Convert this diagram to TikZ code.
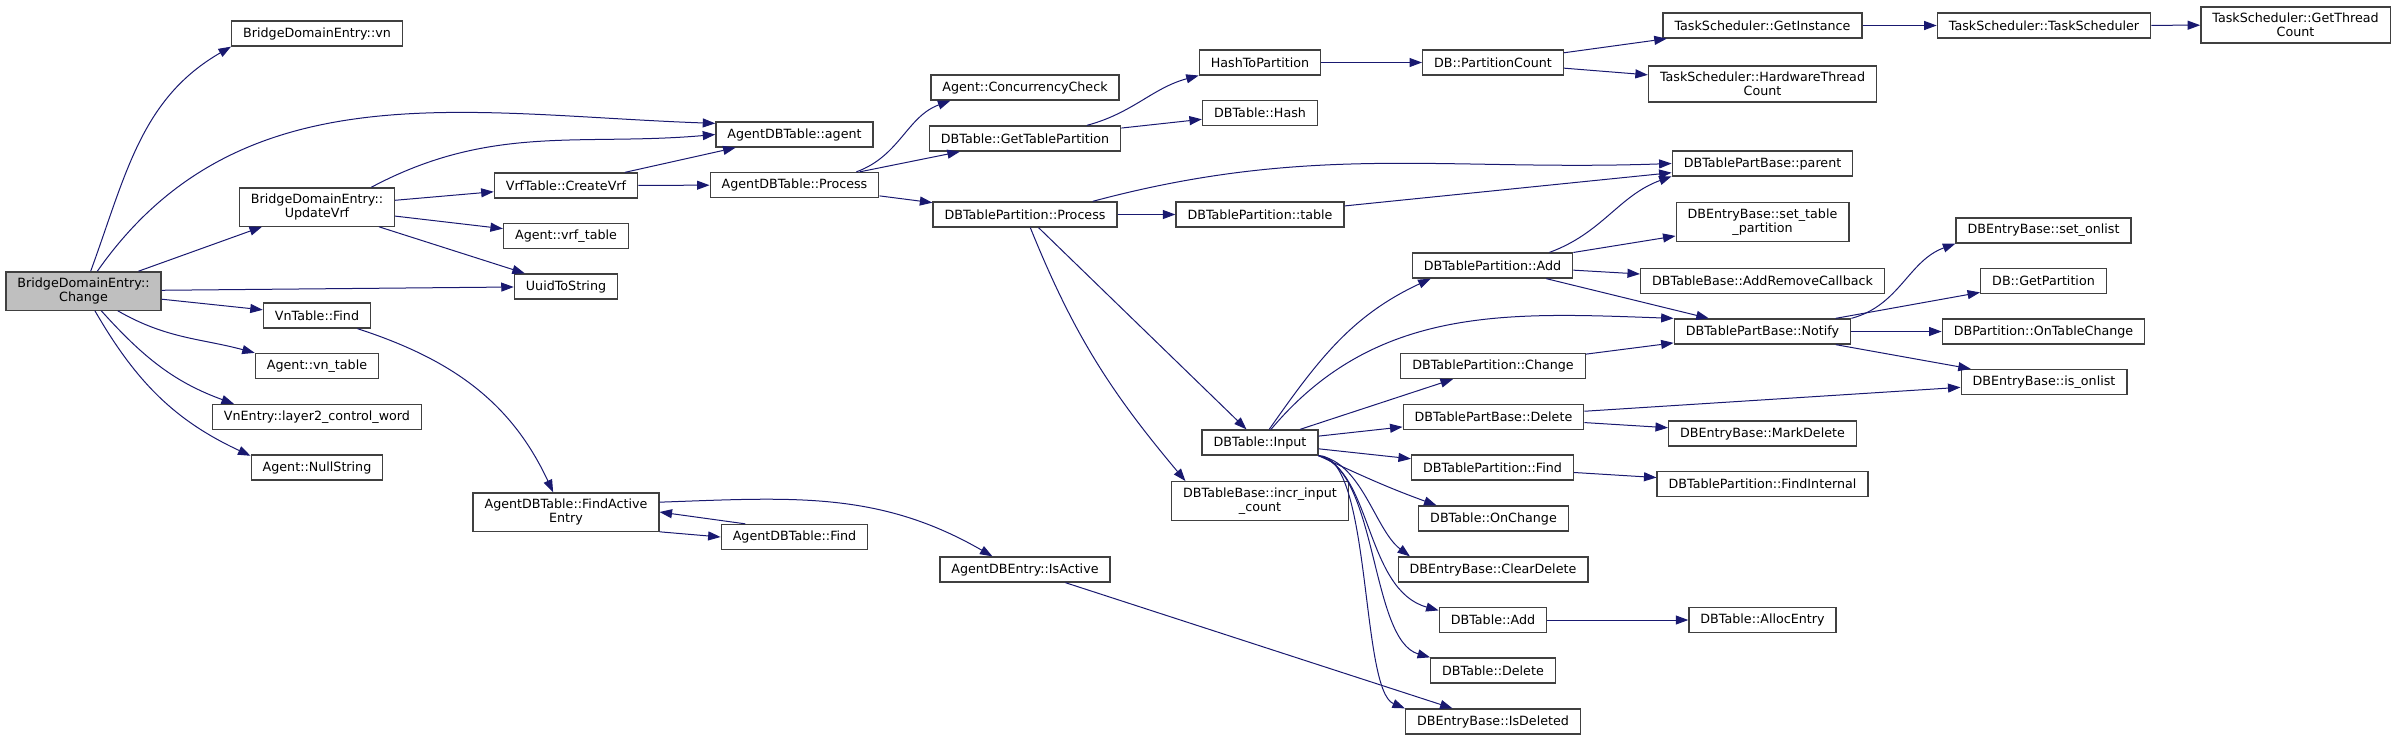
\documentclass[tikz,border=0pt]{standalone}
\usepackage{fontspec}
\setmainfont{DejaVu Sans}
\usepackage{tikz}
\usetikzlibrary{
    arrows.meta
}
\definecolor{edgeblue}{RGB}{25,25,112}
\definecolor{boxgray}{RGB}{64,64,64}
\definecolor{curgray}{RGB}{191,191,191}
\tikzset{
    fnode/.style={
        draw=boxgray,
        rectangle,
        line width=1.3pt,
        fill=white,
        align=center,
        inner xsep=11.5pt,
        inner ysep=6pt,
        minimum height=25pt,
        font=\fontsize{12.7}{14}\selectfont
    },
    fnodecur/.style={
        fnode,
        fill=curgray
    }
}

\begin{document}
\begin{tikzpicture}[
    x=1pt,
    y=-1pt,
    call/.style={
        -{Triangle[length=12.5pt,width=9pt]},
        draw=edgeblue,
        line width=1pt
    }
]
\useasboundingbox (0,0) rectangle (2397,740);

\node[fnodecur] (change) at (83.5,291) {BridgeDomainEntry::\\Change};

\node[fnode] (vn) at (317,33.5) {BridgeDomainEntry::vn};
\node[fnode] (updvrf) at (317,207) {BridgeDomainEntry::\\UpdateVrf};
\node[fnode] (vnfind) at (317,315.5) {VnTable::Find};
\node[fnode] (vntable) at (317,366) {Agent::vn\_table};
\node[fnode] (l2cw) at (317,417) {VnEntry::layer2\_control\_word};
\node[fnode] (nullstr) at (317,467.5) {Agent::NullString};

\node[fnode] (createvrf) at (566,185.5) {VrfTable::CreateVrf};
\node[fnode] (vrftable) at (566,236) {Agent::vrf\_table};
\node[fnode] (uuid) at (566,286.5) {UuidToString};
\node[fnode] (findactive) at (566,512) {AgentDBTable::FindActive\\Entry};

\node[fnode] (agent) at (794.5,134.5) {AgentDBTable::agent};
\node[fnode] (adbprocess) at (794.5,185) {AgentDBTable::Process};
\node[fnode] (adbfind) at (794.5,537) {AgentDBTable::Find};

\node[fnode] (concur) at (1025,87.5) {Agent::ConcurrencyCheck};
\node[fnode] (gettp) at (1025,138.5) {DBTable::GetTablePartition};
\node[fnode] (tpprocess) at (1025,214.5) {DBTablePartition::Process};
\node[fnode] (isactive) at (1025,569.5) {AgentDBEntry::IsActive};

\node[fnode] (hashtop) at (1260,62.5) {HashToPartition};
\node[fnode] (hash) at (1260,113) {DBTable::Hash};
\node[fnode] (tptable) at (1260,214.5) {DBTablePartition::table};
\node[fnode] (input) at (1260,442.5) {DBTable::Input};
\node[fnode] (incr) at (1260,501) {DBTableBase::incr\_input\\\_count};

\node[fnode] (partcount) at (1493,62.5) {DB::PartitionCount};
\node[fnode] (tpadd) at (1492.5,265.5) {DBTablePartition::Add};
\node[fnode] (tpchange) at (1493,366) {DBTablePartition::Change};
\node[fnode] (pbdelete) at (1493.5,417) {DBTablePartBase::Delete};
\node[fnode] (tpfind) at (1492.5,467.5) {DBTablePartition::Find};
\node[fnode] (onchange) at (1493.5,518.5) {DBTable::OnChange};
\node[fnode] (cleardel) at (1493,569.5) {DBEntryBase::ClearDelete};
\node[fnode] (tadd) at (1493,620) {DBTable::Add};
\node[fnode] (tdelete) at (1493,670.5) {DBTable::Delete};
\node[fnode] (isdeleted) at (1493,721.5) {DBEntryBase::IsDeleted};

\node[fnode] (getinst) at (1762.5,25.5) {TaskScheduler::GetInstance};
\node[fnode] (hwcount) at (1762.5,84) {TaskScheduler::HardwareThread\\Count};
\node[fnode] (parent) at (1762.5,163.5) {DBTablePartBase::parent};
\node[fnode] (settp) at (1762.5,222) {DBEntryBase::set\_table\\\_partition};
\node[fnode] (addrem) at (1762.5,281) {DBTableBase::AddRemoveCallback};
\node[fnode] (notify) at (1762.5,331.5) {DBTablePartBase::Notify};
\node[fnode] (markdel) at (1762.5,433.5) {DBEntryBase::MarkDelete};
\node[fnode] (findint) at (1762.5,484) {DBTablePartition::FindInternal};
\node[fnode] (alloc) at (1762.5,620) {DBTable::AllocEntry};

\node[fnode] (tsched) at (2044,25.5) {TaskScheduler::TaskScheduler};
\node[fnode] (setonlist) at (2043.5,230.5) {DBEntryBase::set\_onlist};
\node[fnode] (getpart) at (2043.5,281) {DB::GetPartition};
\node[fnode] (ontc) at (2043.5,331.5) {DBPartition::OnTableChange};
\node[fnode] (isonlist) at (2044,382) {DBEntryBase::is\_onlist};

\node[fnode] (threadcnt) at (2295.5,25) {TaskScheduler::GetThread\\Count};

\draw[call] (change) to[out=70,in=-150] (vn.south west);
\draw[call] (change) to[out=55,in=178] (agent.172);
\draw[call] (change) -- (updvrf);
\draw[call] (change) -- (uuid);
\draw[call] (change) -- (vnfind);
\draw[call] (change) to[out=-30,in=165] (vntable.north west);
\draw[call] (change) to[out=-48,in=160] (l2cw.171);
\draw[call] (change) to[out=-60,in=155] (nullstr.170);

\draw[call] (updvrf.20) to[out=28,in=185] (agent.west);
\draw[call] (updvrf) -- (createvrf);
\draw[call] (updvrf) -- (vrftable);
\draw[call] (updvrf) -- (uuid);

\draw[call] (createvrf) -- (agent);
\draw[call] (createvrf) -- (adbprocess);

\draw[call] (vnfind) to[out=-18,in=115] (findactive.123);

\draw[call] (findactive.6) to[out=2,in=150] (isactive.158);
\draw[call] (findactive.south east) -- (adbfind.west);
\draw[call] (adbfind.165) -- (findactive.east);

\draw[call] (isactive) -- (isdeleted);

\draw[call] (adbprocess.12) to[out=20,in=-160] (concur.190);
\draw[call] (adbprocess) -- (gettp);
\draw[call] (adbprocess) -- (tpprocess);

\draw[call] (gettp.12) to[out=15,in=-165] (hashtop.192);
\draw[call] (gettp) -- (hash);

\draw[call] (hashtop) -- (partcount);
\draw[call] (partcount) -- (getinst);
\draw[call] (partcount) -- (hwcount);
\draw[call] (getinst) -- (tsched);
\draw[call] (tsched) -- (threadcnt);

\draw[call] (tpprocess.11) to[out=15,in=182] (parent.west);
\draw[call] (tpprocess) -- (tptable);
\draw[call] (tpprocess) -- (input);
\draw[call] (tpprocess) to[out=-68,in=130] (incr.165);

\draw[call] (tptable) -- (parent);

\draw[call] (input) to[out=55,in=-155] (tpadd.192);
\draw[call] (input) to[out=50,in=178] (notify.north west);
\draw[call] (input) -- (tpchange);
\draw[call] (input) -- (pbdelete);
\draw[call] (input) -- (tpfind);
\draw[call] (input.south east) to[out=-25,in=160] (onchange.167);
\draw[call] (input.south east) .. controls (1362,462) and (1375,530) .. (cleardel.171);
\draw[call] (input.south east) .. controls (1372,470) and (1365,590) .. (tadd.170);
\draw[call] (input.south east) .. controls (1378,470) and (1370,640) .. (tdelete.north west);
\draw[call] (input.south east) .. controls (1372,455) and (1360,690) .. (isdeleted.north west);

\draw[call] (tpadd.13) to[out=20,in=-160] (parent.188);
\draw[call] (tpadd) -- (settp);
\draw[call] (tpadd) -- (addrem);
\draw[call] (tpadd) -- (notify);

\draw[call] (tpchange) -- (notify);

\draw[call] (pbdelete) -- (isonlist);
\draw[call] (pbdelete) -- (markdel);

\draw[call] (tpfind) -- (findint);
\draw[call] (tadd) -- (alloc);

\draw[call] (notify.north east) to[out=15,in=-160] (setonlist.south west);
\draw[call] (notify) -- (getpart);
\draw[call] (notify) -- (ontc);
\draw[call] (notify) -- (isonlist);

\end{tikzpicture}
\end{document}
